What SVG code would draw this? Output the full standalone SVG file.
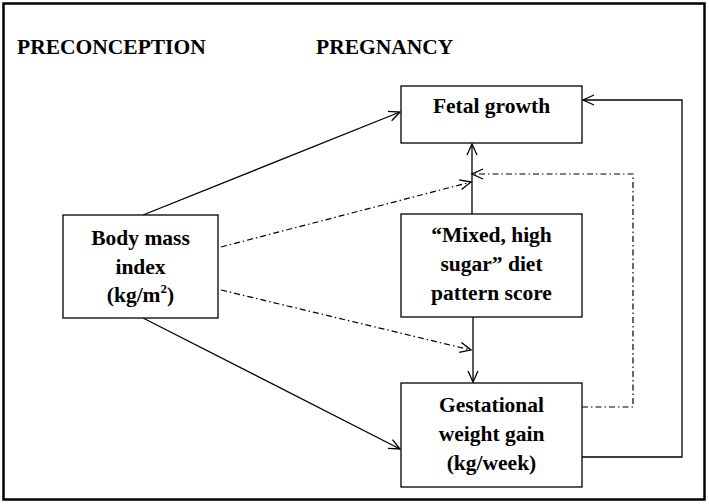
<svg xmlns="http://www.w3.org/2000/svg" width="709" height="504" viewBox="0 0 709 504">
<defs>
<style>
.box{fill:#fff;stroke:#000;stroke-width:1.3}
.t{font-family:"Liberation Serif","Times New Roman",serif;font-weight:bold;font-size:21.5px;fill:#000}
.tc{text-anchor:middle}
.s{fill:none;stroke:#000;stroke-width:1.3}
.d{fill:none;stroke:#000;stroke-width:1.2;stroke-dasharray:6 3 1.5 3}
</style>
<marker id="ah" markerWidth="14" markerHeight="12" refX="12" refY="6" orient="auto" markerUnits="userSpaceOnUse">
<path d="M1,1 L12,6 L1,11" fill="none" stroke="#000" stroke-width="1.3"/>
</marker>
</defs>
<rect x="0" y="0" width="709" height="504" fill="#fff"/>
<rect x="3.5" y="3.5" width="701" height="496" fill="none" stroke="#000" stroke-width="2.5"/>
<text class="t" x="17" y="54">PRECONCEPTION</text>
<text class="t" x="316" y="54">PREGNANCY</text>
<g id="connectors">
<line class="s" x1="143" y1="215" x2="400" y2="112" marker-end="url(#ah)"/>
<line class="s" x1="143" y1="318" x2="400" y2="449" marker-end="url(#ah)"/>
<line class="d" x1="221" y1="247" x2="471" y2="182" marker-end="url(#ah)"/>
<line class="d" x1="221" y1="290" x2="471" y2="350" marker-end="url(#ah)"/>
<line class="s" x1="472" y1="214" x2="472" y2="144" marker-end="url(#ah)"/>
<line class="s" x1="473" y1="317" x2="473" y2="382" marker-end="url(#ah)"/>
<polyline class="d" points="582,407 633,407 633,174 472,174" marker-end="url(#ah)"/>
<polyline class="s" points="582,457 682,457 682,100 583,100" marker-end="url(#ah)"/>
</g>
<g id="fetal">
<rect class="box" x="401" y="86" width="181" height="57"/>
<text class="t tc" x="491.5" y="113">Fetal growth</text>
</g>
<g id="diet">
<rect class="box" x="401" y="214" width="181" height="103"/>
<text class="t tc" x="491.5" y="242">“Mixed, high</text>
<text class="t tc" x="491.5" y="271">sugar” diet</text>
<text class="t tc" x="491.5" y="300">pattern score</text>
</g>
<g id="gwg">
<rect class="box" x="401" y="383" width="181" height="104"/>
<text class="t tc" x="491.5" y="412">Gestational</text>
<text class="t tc" x="491.5" y="441">weight gain</text>
<text class="t tc" x="491.5" y="470">(kg/week)</text>
</g>
<g id="bmi">
<rect class="box" x="63" y="215" width="155" height="103"/>
<text class="t tc" x="140.5" y="245">Body mass</text>
<text class="t tc" x="140.5" y="274">index</text>
<text class="t tc" x="140.5" y="302">(kg/m<tspan font-size="13" dy="-9">2</tspan><tspan dy="9">)</tspan></text>
</g>
</svg>
